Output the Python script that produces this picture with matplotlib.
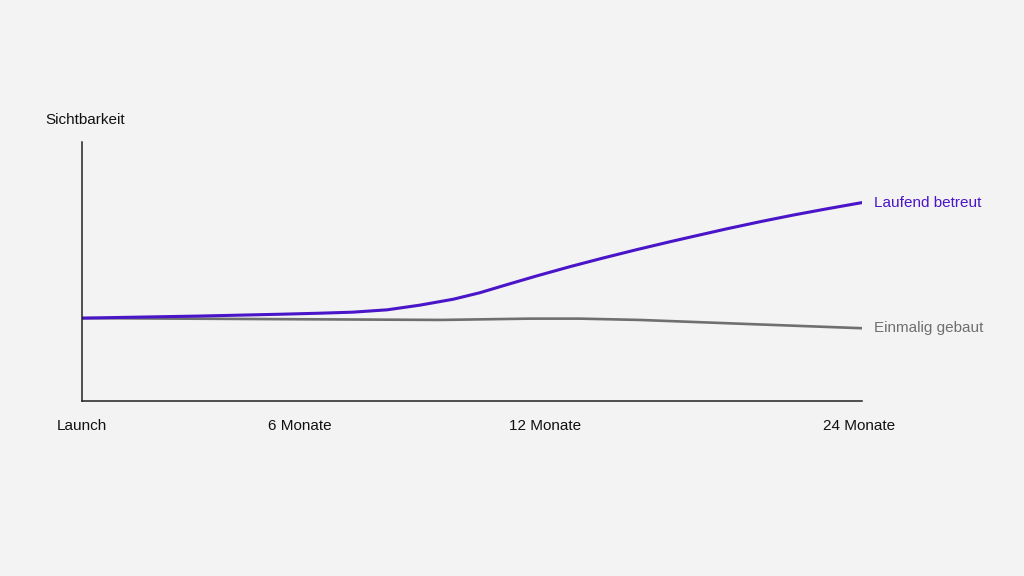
import matplotlib.pyplot as plt

plt.rcParams['font.family'] = ['Liberation Sans', 'DejaVu Sans']

# x in percent of the time span (Launch = 0, 24 Monate = 100)
x_betreut = [0, 15.1, 25.4, 30.5, 34.7, 39.1, 43.3, 47.6, 51.0, 54.0, 58.3, 62.6,
             66.8, 71.2, 75.4, 78.3, 82.7, 86.9, 91.2, 95.5, 100]
y_betreut = [32.0, 32.8, 33.5, 33.9, 34.3, 35.2, 37.0, 39.3, 41.8, 44.5, 48.3, 51.9,
             55.2, 58.5, 61.5, 63.5, 66.5, 69.2, 71.8, 74.2, 76.6]

x_gebaut = [0, 25.4, 46.0, 57.4, 63.8, 71.5, 85.6, 100]
y_gebaut = [32.0, 31.6, 31.3, 31.8, 31.8, 31.3, 29.7, 28.1]

tick_pos = [0, 27.9, 59.4, 99.6]
tick_labels = ['Launch', '6 Monate', '12 Monate', '24 Monate']

bg = '#f3f3f3'
purple = '#4a14c8'
gray = '#6f6f6f'

fig = plt.figure(figsize=(10.24, 5.76), dpi=100, facecolor=bg)
ax = fig.add_axes([0.0801, 0.3038, 0.7617, 0.4497], facecolor=bg)

ax.plot(x_gebaut, y_gebaut, color=gray, lw=1.9, solid_capstyle='round', solid_joinstyle='round')
ax.plot(x_betreut, y_betreut, color=purple, lw=2.2, solid_capstyle='round', solid_joinstyle='round')

ax.text(101.6, y_betreut[-1], 'Laufend betreut', color=purple, fontsize=11,
        va='center', ha='left', clip_on=False)
ax.text(101.6, y_gebaut[-1], 'Einmalig gebaut', color=gray, fontsize=11,
        va='center', ha='left', clip_on=False)

ax.set_xlim(0, 100)
ax.set_ylim(0, 100)
ax.set_xticks(tick_pos)
ax.set_xticklabels(tick_labels, fontsize=11, color='#111111')
ax.tick_params(axis='x', length=0, pad=13)
ax.set_yticks([])

for s in ['top', 'right']:
    ax.spines[s].set_visible(False)
for s in ['left', 'bottom']:
    ax.spines[s].set_linewidth(1.1)
    ax.spines[s].set_color('#222222')

fig.text(45 / 1024, 1 - 120 / 576, 'Sichtbarkeit', fontsize=11, color='#111111',
         ha='left', va='center')

fig.savefig('out.png', dpi=100, facecolor=bg)
